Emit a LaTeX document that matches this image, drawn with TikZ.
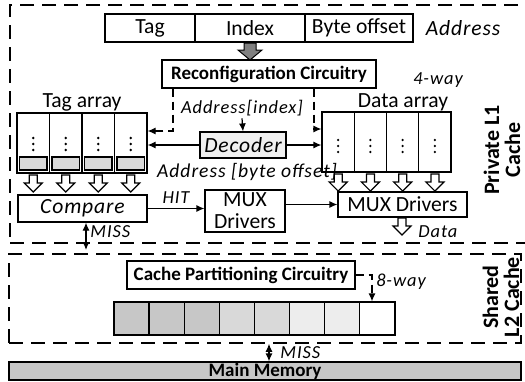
\documentclass[tikz,border=0pt]{standalone}
\usepackage{fontspec}
\setmainfont{Carlito}
\usetikzlibrary{arrows.meta}
\def\hollowarrow[#1](#2,#3){\draw[#1] (#2,#3) ++(-4,0) -- ++(0,8) -- ++(-5,0) -- ++(9,9) -- ++(9,-9) -- ++(-5,0) -- ++(0,-8) -- cycle;}

\begin{document}
\begin{tikzpicture}[x=0.5pt,y=-0.5pt,
	box/.style={draw, line width=0.6pt, inner sep=0pt, fill=white},
	big/.style={font=\fontsize{10.8}{11}\selectfont},
	bigit/.style={font=\itshape\fontsize{10.8}{11}\selectfont\addfontfeature{LetterSpace=4}},
	boldlbl/.style={font=\bfseries\fontsize{9.5}{10}\selectfont},
	sidelbl/.style={font=\bfseries\fontsize{11}{10.5}\selectfont, align=center, rotate=90},
	note/.style={font=\itshape\fontsize{9.2}{10}\selectfont\addfontfeature{LetterSpace=5}, inner sep=1pt},
	link/.style={line width=0.6pt, -{Latex[length=4pt,width=3.5pt]}},
	dlink/.style={link, dash pattern=on 4pt off 2.5pt},
	frame/.style={draw, line width=0.8pt, dash pattern=on 7pt off 4pt, inner sep=0pt}]
			%%%%% START %%%%%
			\useasboundingbox (0,0) rectangle (525,381);
			
			% cache levels
			\node[frame, minimum width=260pt, minimum height=119pt] (l1) at (270,124) {};
			\node[frame, minimum width=256pt, minimum height=44.5pt] (l2) at (265,298.5) {};
			\node[sidelbl] (l1lbl) at (502,150) {Private L1\\Cache};
			\node[sidelbl] (l2lbl) at (501,297) {Shared\\L2 Cache};
			
			% address fields
			\node[box, big, minimum width=45pt, minimum height=14pt] (tagf) at (150,28) {Tag};
			\node[box, big, minimum width=55pt, minimum height=14pt] (idxf) at (250,28) {Index};
			\node[box, big, minimum width=54pt, minimum height=14pt] (offf) at (359,28) {Byte offset};
			\node[bigit] (addr) at (463,28) {Address};
			\draw[fill=black!50, line width=0.5pt] (250,43) ++(-6,0) -- ++(0,7) -- ++(-6,0) -- ++(12,10) -- ++(12,-10) -- ++(-6,0) -- ++(0,-7) -- cycle;
			
			\node[box, boldlbl, minimum width=107pt, minimum height=14pt] (reconf) at (269,74) {Reconfiguration Circuitry};
			\node[note] (fourway) at (438,80) {4-way};
			
			% tag array
			\node[big] (taglbl) at (82,102) {Tag array};
			\foreach \i in {1,...,4} {
				\node[box, minimum width=16.25pt, minimum height=30pt] (tc\i) at ({32.5*\i+0.75},143) {};
				\node[box, fill=black!15, minimum width=13.75pt, minimum height=6.5pt] (tg\i) at ({32.5*\i+0.75},163.5) {};
				\foreach \d in {-6,0,6}
					\fill ({32.5*\i+0.75},144+\d) circle (1.3);
				\hollowarrow[fill=white, line width=0.6pt]({32.5*\i+0.75},175);
			}
			
			% data array
			\node[big] (datalbl) at (403,102) {Data array};
			\foreach \i in {1,...,4} {
				\node[box, minimum width=16.125pt, minimum height=30pt] (dc\i) at ({32.25*\i+305.9},142) {};
				\foreach \d in {-6,0,6}
					\fill ({32.25*\i+305.9},146+\d) circle (1.3);
				\hollowarrow[fill=white, line width=0.6pt]({32.25*\i+305.9},174);
			}
			
			% decoder
			\node[box, bigit, fill=black!6, minimum width=43pt, minimum height=13pt] (dec) at (243,145) {Decoder};
			\node[note] (aidx) at (242,108) {Address[index]};
			\node[note, font=\itshape\fontsize{9.8}{11}\selectfont\addfontfeature{LetterSpace=5}] (aoff) at (247,172) {Address [byte offset]};
			\draw[link] (aidx.south) -- (dec.north);
			\draw[link] (dec.west) -- (tc4.east |- dec.west);
			\draw[link] (dec.east) -- (dc1.west |- dec.east);
			\coordinate (rl) at (173,131);
			\coordinate (rr) at (314,129);
			\draw[dlink] (reconf.south -| rl) -- (rl) -- (tc4.east |- rl);
			\draw[dlink] (reconf.south -| rr) -- (rr) -- (dc1.west |- rr);
			
			% compare and drivers
			\node[box, bigit, minimum width=64.5pt, minimum height=13.5pt] (cmp) at (82.5,208.5) {Compare};
			\node[box, big, align=center, minimum width=40pt, minimum height=21pt] (muxa) at (245,211) {MUX\\Drivers};
			\node[box, big, minimum width=64.5pt, minimum height=12.5pt] (muxb) at (402.5,204.5) {MUX Drivers};
			\draw[link] (cmp.east) -- (muxa.west |- cmp.east) node[note, midway, above=1pt] (hit) {HIT};
			\draw[link] (muxa.east |- muxb.west) -- (muxb.west);
			\hollowarrow[fill=white, line width=0.6pt](402,218);
			\node[note, anchor=west] (data) at (416,232) {Data};
			
			\coordinate (mu) at (86,250);
			\draw[line width=0.6pt, {Latex[length=4pt,width=3.5pt]}-{Latex[length=4pt,width=3.5pt]}] (cmp.south -| mu) -- (mu);
			\node[note, anchor=west] (miss1) at (88,232) {MISS};
			
			% shared L2
			\node[box, boldlbl, minimum width=114pt, minimum height=14pt] (cpc) at (241,275) {Cache Partitioning Circuitry};
			\foreach \i/\c in {1/black!22,2/black!22,3/black!22,4/black!15,5/black!15,6/black!7,7/black!7,8/white}
				\node[box, fill=\c, minimum width=17.56pt, minimum height=16.5pt] (w\i) at ({35.125*\i+96.4},318.5) {};
			\coordinate (cw) at (372,275);
			\draw[dlink] (cpc.east) -- (cw) -- (cw |- w8.north);
			\node[note] (eightway) at (401,282) {8-way};
			
			% main memory
			\node[box, boldlbl, fill=black!22, minimum width=256pt, minimum height=9pt] (mm) at (265,371) {Main Memory};
			\coordinate (ml) at (269,352);
			\draw[line width=0.6pt, {Latex[length=4pt,width=3.5pt]}-{Latex[length=4pt,width=3.5pt]}] (l2.south -| ml) -- (mm.north -| ml);
			\node[note, anchor=west] (miss2) at (278,353) {MISS};
			%%%%% END %%%%%
\end{tikzpicture}
\end{document}
